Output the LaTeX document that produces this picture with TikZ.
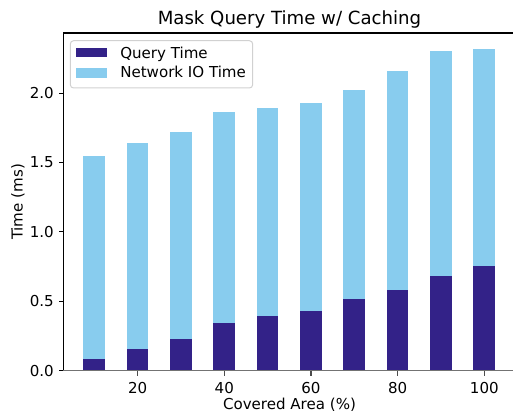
\documentclass[tikz,border=0pt]{standalone}
\usepackage{fontspec}
\setmainfont{DejaVu Sans}
\usepackage{xcolor}
\usetikzlibrary{positioning}

\definecolor{querycol}{HTML}{332288}
\definecolor{netcol}{HTML}{88CCEE}

\begin{document}
\begin{tikzpicture}[x=0.75pt, y=0.75pt,
    ticklabel/.style={font=\fontsize{11.3}{13}\selectfont, inner sep=0pt},
    axislabel/.style={font=\fontsize{11.3}{13}\selectfont, inner sep=0pt},
    legendbox/.style={draw=black!18, fill=white, rounded corners=2.5pt, line width=0.75pt}]
    \useasboundingbox (0,0) rectangle (513,414);

    \node[font=\fontsize{13.6}{16}\selectfont, inner sep=0pt, anchor=base] (title) at (289.5,389) {Mask Query Time w/ Caching};

    \begin{scope}[shift={(50.97,43.3)}, x=3.25pt, y=104.1pt]
        \foreach \x/\q/\t in {10/0.082/1.547, 20/0.154/1.643, 30/0.226/1.722, 40/0.344/1.866, 50/0.392/1.893,
                              60/0.430/1.926, 70/0.517/2.025, 80/0.581/2.157, 90/0.680/2.301, 100/0.752/2.320} {
            \fill[netcol] (\x-2.5,\q) rectangle (\x+2.5,\t);
            \fill[querycol] (\x-2.5,0) rectangle (\x+2.5,\q);
        }

        \draw[line width=0.8pt] (2.85,0) -- (2.85,2.433) -- (107.25,2.433);
        \draw[black!55, line width=1.1pt] (2.85,0) -- (107.25,0);

        \foreach \v [count=\i] in {0.0,0.5,1.0,1.5,2.0} {
            \draw[line width=0.8pt] (2.85,\v) -- ++(-3.6pt,0);
            \node[ticklabel, anchor=east, xshift=-7pt] (ylab\i) at (2.85,\v) {\v};
        }
        \foreach \v [count=\i] in {20,40,60,80,100} {
            \draw[black!70, line width=0.8pt] (\v,0) -- ++(0,-3.6pt);
            \node[ticklabel, anchor=north, yshift=-8.7pt] (xlab\i) at (\v,0) {\v};
        }
    \end{scope}

    \node[axislabel, anchor=base] (xaxis) at (289.5,4.7) {Covered Area (\%)};
    \node[axislabel, anchor=base, rotate=90] (yaxis) at (22.7,212) {Time (ms)};

    \draw[legendbox] (70.3,326) rectangle (252.7,373.3);
    \fill[querycol] (76,356.7) rectangle (106.7,366.3);
    \fill[netcol] (76,336) rectangle (106.7,346);
    \node[ticklabel, anchor=base west] (legq) at (120,355.7) {Query Time};
    \node[ticklabel, anchor=base west] (legn) at (120,336) {Network IO Time};
\end{tikzpicture}
\end{document}
